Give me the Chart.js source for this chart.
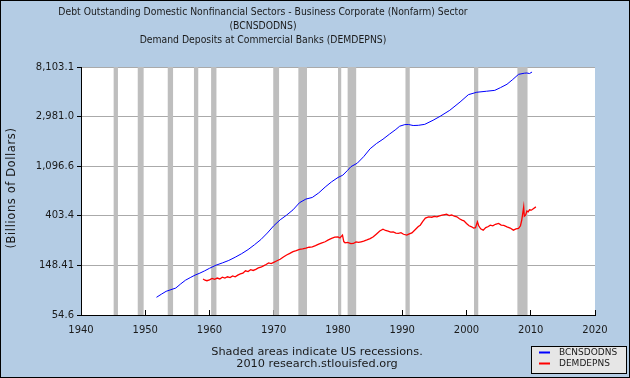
<!DOCTYPE html>
<html>
<head>
<meta charset="utf-8">
<script src="https://cdn.jsdelivr.net/npm/chart.js@4"></script>
<style>
  html, body { margin: 0; padding: 0; background: #b4cce4; }
  #chart { display: block; }
</style>
</head>
<body>
<canvas id="chart" width="630" height="378"></canvas>
<script>
// BCNSDODNS (quarterly)
var debtYears = [1951.75, 1952.5, 1953.25, 1954.0, 1954.75, 1955.5, 1956.25, 1957.0, 1957.75, 1958.5,
    1959.25, 1960.0, 1961.0, 1962.0, 1963.0, 1964.0, 1965.0, 1966.0, 1967.0, 1968.0,
    1969.0, 1970.0, 1971.0, 1972.0, 1973.0, 1974.0, 1975.0, 1976.0, 1977.0, 1978.0,
    1979.0, 1980.0, 1980.75, 1981.5, 1982.0, 1983.0, 1984.0, 1985.0, 1986.0, 1987.0,
    1988.0, 1989.0, 1989.6, 1990.4, 1991.0, 1991.7, 1992.5, 1993.5, 1994.8, 1995.9,
    1997.4, 1999.0, 2000.3, 2001.6, 2003.1, 2004.4, 2005.3, 2006.3, 2007.2, 2008.1,
    2009.0, 2009.4, 2009.8, 2010.2];
var debtValues = [78, 83, 88, 91, 94, 102, 110, 116, 122, 127,
    133, 140, 149, 156, 164, 175, 188, 204, 225, 250,
    285, 330, 372, 409, 455, 525, 565, 584, 640, 720,
    800, 874, 915, 1010, 1085, 1165, 1330, 1560, 1734, 1890,
    2090, 2300, 2456, 2537, 2540, 2490, 2500, 2550, 2770, 3000,
    3386, 4000, 4640, 4870, 4970, 5060, 5350, 5720, 6300, 6990,
    7150, 7180, 7100, 7320];

// DEMDEPNS (monthly)
var depYears = [1959.0, 1959.3, 1959.6, 1960.0, 1960.4, 1960.8, 1961.2, 1961.6, 1962.0, 1962.4,
    1962.8, 1963.2, 1963.6, 1964.0, 1964.4, 1964.8, 1965.2, 1965.6, 1966.0, 1966.4,
    1966.8, 1967.2, 1967.6, 1968.0, 1968.4, 1968.8, 1969.2, 1969.6, 1970.0, 1970.5,
    1971.0, 1971.5, 1972.0, 1972.5, 1973.0, 1973.5, 1974.0, 1974.5, 1975.0, 1975.5,
    1976.0, 1976.5, 1977.0, 1977.5, 1978.0, 1978.5, 1979.0, 1979.5, 1980.0, 1980.3,
    1980.7, 1980.9, 1981.1, 1981.5, 1982.0, 1982.4, 1982.8, 1983.2, 1983.6, 1984.0,
    1984.5, 1985.0, 1985.5, 1986.0, 1986.5, 1987.0, 1987.4, 1987.8, 1988.2, 1988.6,
    1989.0, 1989.4, 1989.8, 1990.2, 1990.7, 1991.1, 1991.5, 1992.0, 1992.5, 1992.8,
    1993.2, 1993.6, 1994.1, 1994.6, 1995.0, 1995.4, 1995.8, 1996.2, 1996.6, 1996.9,
    1997.3, 1997.7, 1998.1, 1998.5, 1998.9, 1999.3, 1999.6, 2000.0, 2000.4, 2000.8,
    2001.1, 2001.4, 2001.7, 2001.9, 2002.2, 2002.6, 2003.0, 2003.4, 2003.7, 2004.1,
    2004.5, 2005.0, 2005.4, 2005.8, 2006.3, 2006.8, 2007.3, 2007.7, 2008.1, 2008.4,
    2008.6, 2008.9, 2009.0, 2009.2, 2009.4, 2009.6, 2009.8, 2010.1, 2010.4, 2010.8];
var depValues = [113, 110, 109, 111, 114, 112, 115, 113, 117, 115,
    118, 116, 120, 118, 122, 125, 127, 133, 131, 136,
    134, 137, 141, 143, 147, 151, 156, 154, 158, 163,
    168, 176, 183, 189, 196, 200, 205, 207, 210, 214,
    216, 221, 228, 234, 239, 248, 256, 262, 264, 258,
    273, 240, 234, 236, 230, 231, 238, 236, 239, 242,
    248, 255, 264, 280, 297, 308, 300, 296, 290, 292,
    285, 283, 287, 278, 273, 280, 286, 305, 325, 334,
    360, 385, 395, 392, 398, 395, 402, 408, 413, 417,
    405, 410, 400, 395, 380, 370, 365, 345, 330, 323,
    315, 318, 357, 330, 310, 302, 318, 325, 334, 330,
    340, 346, 335, 332, 323, 315, 302, 310, 313, 330,
    370, 483, 400, 409, 445, 437, 455, 452, 465, 483];

// recession bands (decimal years)
var recessionStart = [1945.08, 1948.83, 1953.5, 1957.58, 1960.25, 1969.92, 1973.83, 1980.0, 1981.5, 1990.5, 2001.17, 2007.92];
var recessionEnd = [1945.75, 1949.75, 1954.33, 1958.25, 1961.08, 1970.83, 1975.17, 1980.5, 1982.83, 1991.17, 2001.83, 2009.5];

var yTickValues = [54.598, 148.413, 403.429, 1096.633, 2980.958, 8103.084];
var yTickLabels = ['54.6', '148.41', '403.4', '1,096.6', '2,981.0', '8,103.1'];

var titleLines = [
    'Debt Outstanding Domestic Nonfinancial Sectors - Business Corporate (Nonfarm) Sector',
    '(BCNSDODNS)',
    'Demand Deposits at Commercial Banks (DEMDEPNS)'
];

var FONT = 'DejaVu Sans';
var TEXT = '#1a1a1a';

function toPoints(xs, ys) {
    return xs.map((x, i) => ({ x: x, y: ys[i] }));
}

const fredPlugin = {
    id: 'fred',
    beforeDraw(chart) {
        const c = chart.ctx;
        const a = chart.chartArea;
        c.save();
        c.fillStyle = '#b4cce4';
        c.fillRect(0, 0, chart.width, chart.height);
        c.fillStyle = '#ffffff';
        c.fillRect(a.left, a.top, a.right - a.left, a.bottom - a.top);
        c.restore();
    },
    beforeDatasetsDraw(chart) {
        const c = chart.ctx;
        const a = chart.chartArea;
        const xs = chart.scales.x;
        c.save();
        c.fillStyle = '#bebebe';
        recessionStart.forEach((s, i) => {
            const x0 = xs.getPixelForValue(s);
            const x1 = xs.getPixelForValue(recessionEnd[i]);
            c.fillRect(x0, a.top, x1 - x0, a.bottom - a.top);
        });
        c.restore();
    },
    afterDraw(chart) {
        const c = chart.ctx;
        c.save();
        c.fillStyle = TEXT;
        c.textAlign = 'center';
        c.textBaseline = 'middle';
        // title
        c.font = '10.3px "DejaVu Sans Condensed", "' + FONT + '"';
        titleLines.forEach((t, i) => c.fillText(t, 263, 12 + i * 14));
        // y axis title
        c.save();
        c.translate(12, 188);
        c.rotate(-Math.PI / 2);
        c.font = '11.5px "' + FONT + '"';
        c.letterSpacing = '0.6px';
        c.fillText('(Billions of Dollars)', 0, 0);
        c.restore();
        // footer
        c.font = '11.3px "' + FONT + '"';
        c.fillText('Shaded areas indicate US recessions.', 317, 352.5);
        c.fillText('2010 research.stlouisfed.org', 317, 364.5);
        // legend box
        c.fillStyle = '#e6e6e6';
        c.fillRect(531, 346, 96, 28);
        c.strokeStyle = '#000';
        c.lineWidth = 1;
        c.strokeRect(531.5, 346.5, 95, 27);
        c.font = '9px "' + FONT + '"';
        c.textAlign = 'left';
        chart.data.datasets.forEach((ds, i) => {
            const y = 352.5 + i * 11;
            c.strokeStyle = ds.borderColor;
            c.lineWidth = 2;
            c.beginPath();
            c.moveTo(539, y);
            c.lineTo(550, y);
            c.stroke();
            c.fillStyle = TEXT;
            c.fillText(ds.label, 559, y + 0.5);
        });
        // outer border
        c.strokeStyle = '#000';
        c.lineWidth = 1;
        c.strokeRect(0.5, 0.5, chart.width - 1, chart.height - 1);
        c.restore();
    }
};

const ctx = document.getElementById('chart').getContext('2d');
const chart = new Chart(ctx, {
    type: 'line',
    data: {
        datasets: [
            {
                label: 'BCNSDODNS',
                data: toPoints(debtYears, debtValues),
                borderColor: '#0000ff',
                borderWidth: 1,
                pointRadius: 0,
                tension: 0
            },
            {
                label: 'DEMDEPNS',
                data: toPoints(depYears, depValues),
                borderColor: '#ff0000',
                borderWidth: 1.3,
                pointRadius: 0,
                tension: 0
            }
        ]
    },
    options: {
        responsive: false,
        animation: false,
        layout: { padding: { left: 0, right: 35, top: 67, bottom: 0 } },
        plugins: {
            legend: { display: false },
            tooltip: { enabled: false },
            title: { display: false }
        },
        scales: {
            x: {
                type: 'linear',
                min: 1940,
                max: 2020,
                afterFit: s => { s.height = 63; },
                ticks: {
                    stepSize: 10,
                    color: TEXT,
                    font: { family: FONT, size: 10 },
                    padding: 14,
                    maxRotation: 0,
                    callback: v => String(v)
                },
                grid: { drawOnChartArea: false, tickLength: -5, tickColor: '#000' },
                border: { color: '#000', width: 1 }
            },
            y: {
                type: 'logarithmic',
                min: yTickValues[0],
                max: yTickValues[yTickValues.length - 1],
                afterFit: s => { s.width = 81; },
                afterBuildTicks: s => { s.ticks = yTickValues.map(v => ({ value: v })); },
                ticks: {
                    color: TEXT,
                    font: { family: FONT, size: 10 },
                    padding: 3,
                    autoSkip: false,
                    callback: (v, i) => yTickLabels[i]
                },
                grid: { color: '#aaaaaa', tickColor: '#000', tickLength: 4 },
                border: { color: '#000', width: 1 }
            }
        }
    },
    plugins: [fredPlugin]
});
</script>
</body>
</html>
